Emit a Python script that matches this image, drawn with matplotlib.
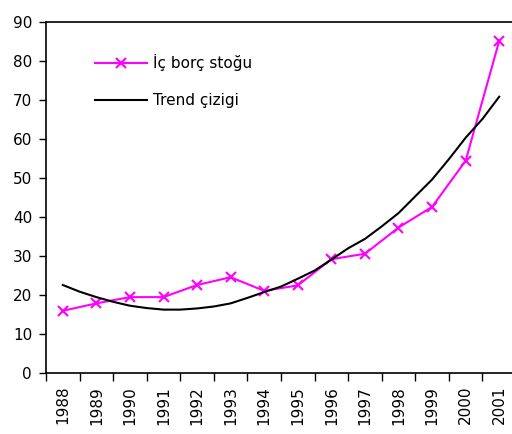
import numpy as np
import matplotlib
matplotlib.use("Agg")
import matplotlib.pyplot as plt

years = ["1988", "1989", "1990", "1991", "1992", "1993", "1994",
         "1995", "1996", "1997", "1998", "1999", "2000", "2001"]
ic_borc = [16.0, 17.9, 19.5, 19.5, 22.6, 24.6, 21.1,
           22.5, 29.2, 30.6, 37.3, 42.6, 54.4, 85.1]

trend_pos = [0, 0.5, 1, 1.5, 2, 2.5, 3, 3.5, 4, 4.5, 5, 5.5, 6, 6.5,
             7, 7.5, 8, 8.5, 9, 9.5, 10, 10.5, 11, 11.5, 12, 12.5, 13]
trend = [22.6, 20.9, 19.5, 18.3, 17.3, 16.7, 16.3, 16.3, 16.6, 17.1,
         17.9, 19.3, 20.8, 22.2, 24.2, 26.3, 29.1, 32.0, 34.4, 37.6,
         41.0, 45.3, 49.6, 54.8, 60.3, 65.1, 70.8]

plt.rcParams['font.family'] = ['DejaVu Sans']

fig = plt.figure(figsize=(5.12, 4.34), dpi=100)
ax = fig.add_axes([46 / 512, 60.7 / 434, 470 / 512, 351.6 / 434])

x = np.arange(len(years))
ax.plot(x, ic_borc, color='#FF00FF', lw=1.5, marker='x', ms=7.5, mew=1.5,
        label='İç borç stoğu')
ax.plot(trend_pos, trend, color='black', lw=1.5, label='Trend çizigi')

ax.set_xlim(-0.5, len(years) - 0.5)
ax.set_ylim(0, 90)
ax.set_yticks(range(0, 91, 10))
ax.tick_params(axis='y', labelsize=11, length=5, width=1, direction='out', pad=5)

# tick marks between categories, labels at centers
ax.set_xticks(np.arange(len(years) + 1) - 0.5)
ax.set_xticklabels([])
ax.set_xticks(x, minor=True)
ax.set_xticklabels(years, minor=True, rotation=90, fontsize=11)
ax.tick_params(axis='x', which='major', length=6, width=1)
ax.tick_params(axis='x', which='minor', length=0, pad=9)

for s in ['left', 'bottom', 'top']:
    ax.spines[s].set_linewidth(1.2)
ax.spines['right'].set_visible(False)

leg = ax.legend(loc='upper left', bbox_to_anchor=(95 / 512, 1 - 54 / 434),
                bbox_transform=fig.transFigure, frameon=False, fontsize=11,
                handlelength=3.4, handletextpad=0.4, labelspacing=1.45,
                borderpad=0, borderaxespad=0)

fig.savefig('out.png', dpi=100)
